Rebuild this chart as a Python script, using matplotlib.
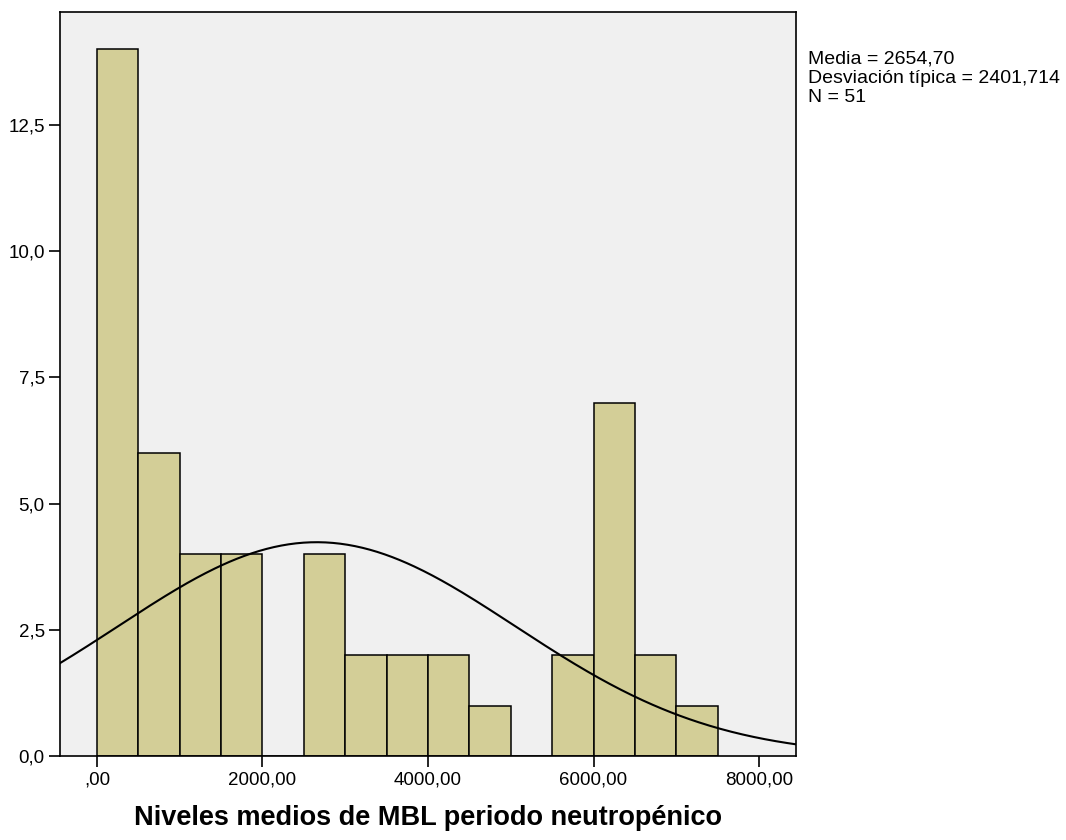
import numpy as np
import matplotlib
matplotlib.use("Agg")
import matplotlib.pyplot as plt

# ── data ──────────────────────────────────────────────────────────────────────
bin_starts = [0, 500, 1000, 1500, 2000, 2500, 3000, 3500, 4000, 4500,
              5000, 5500, 6000, 6500, 7000]
counts     = [14, 6, 4, 4, 0, 4, 2, 2, 2, 1, 0, 2, 7, 2, 1]
bin_width  = 500

mean_val = 2654.70
sd_val   = 2401.714
n_val    = 51

x_ticks  = [0, 2000, 4000, 6000, 8000]
x_labels = [",00", "2000,00", "4000,00", "6000,00", "8000,00"]
y_ticks  = [0, 2.5, 5.0, 7.5, 10.0, 12.5]
y_labels = ["0,0", "2,5", "5,0", "7,5", "10,0", "12,5"]

C_BAR = "#D3CE97"
C_BG  = "#F0F0F0"

plt.rcParams["font.family"] = ["Liberation Sans", "DejaVu Sans"]

fig = plt.figure(figsize=(10.66, 8.40), dpi=100)
ax = fig.add_axes([60 / 1066, 84 / 840, 736 / 1066, 744 / 840])
ax.set_facecolor(C_BG)

ax.bar(bin_starts, counts, width=bin_width, align="edge",
       color=C_BAR, edgecolor="black", linewidth=1.1, zorder=2)

# fitted normal curve (scaled to counts)
xs = np.linspace(-450, 8450, 400)
ys = n_val * bin_width / (sd_val * np.sqrt(2 * np.pi)) * \
     np.exp(-0.5 * ((xs - mean_val) / sd_val) ** 2)
ax.plot(xs, ys, color="black", lw=1.5, zorder=3)

ax.set_xlim(-447, 8447)
ax.set_ylim(0, 14.74)

ax.set_xticks(x_ticks)
ax.set_xticklabels(x_labels, fontsize=13.5)
ax.set_yticks(y_ticks)
ax.set_yticklabels(y_labels, fontsize=13.5)
ax.tick_params(axis="both", direction="out", length=8, width=1.2, pad=3)

for sp in ax.spines.values():
    sp.set_linewidth(1.2)

ax.set_xlabel("Niveles medios de MBL periodo neutropénico",
              fontsize=19.5, fontweight="bold", labelpad=12)

fig.text(808 / 1066, 1 - 51 / 840,
         "Media = 2654,70\nDesviación típica = 2401,714\nN = 51",
         fontsize=14, va="top", ha="left", linespacing=1.15)

fig.savefig("out.png", dpi=100)
